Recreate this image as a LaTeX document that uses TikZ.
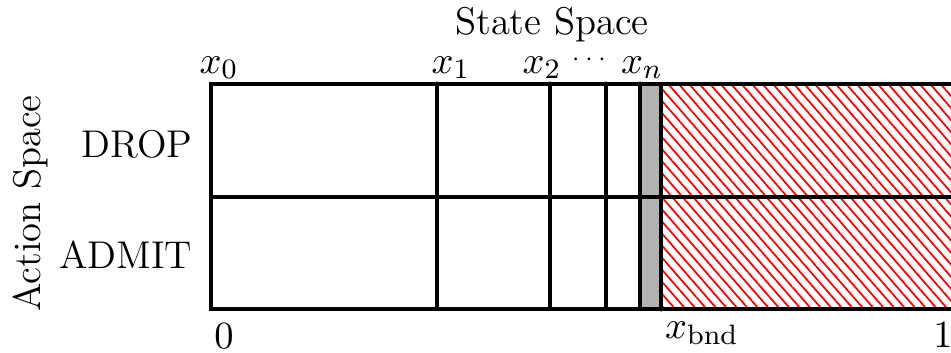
\documentclass[tikz,border=0pt]{standalone}
\usetikzlibrary{patterns.meta}
\begin{document}
\begin{tikzpicture}[x=1cm,y=1cm,font=\fontsize{11}{13.6}\selectfont,
cellline/.style={line width=1pt,draw=black},
edgeline/.style={line width=1.3pt,draw=black},
lbl/.style={anchor=base,inner sep=0pt},
hatch/.style={pattern={Lines[angle=-49,distance=2.25pt,line width=.5pt]},pattern color=red}]
\useasboundingbox(0,0)rectangle(9.51,3.52);
\clip(0,0)rectangle(9.51,3.52);
% state intervals
\fill[gray!60](6.40,.43)rectangle(6.61,2.68);
\fill[hatch](6.61,.43)rectangle(9.8,2.68);
\draw[cellline](9.8,2.68)--(2.11,2.68)--(2.11,.43)--(9.8,.43);
\draw[cellline](2.11,1.55)--(9.8,1.55);
\foreach \xx in {4.37,5.50,6.06}{\draw[cellline](\xx,.43)--(\xx,2.68);\fill(\xx,2.68)circle(.025);}
\draw[edgeline](6.40,.43)--(6.40,2.68);\fill(6.40,2.68)circle(.025);
\draw[edgeline](6.61,.43)--(6.61,2.68);\fill(6.61,.43)circle(.025);
% labels
\node[lbl](title)at(5.52,3.17){State Space};
\node[lbl](xzero)at(2.19,2.79){$x_0$};
\node[lbl](xone)at(4.51,2.79){$x_1$};
\node[lbl](xtwo)at(5.42,2.79){$x_2$};
\node[lbl,font=\scriptsize](xdots)at(5.89,2.86){$\cdots$};
\node[lbl](xlast)at(6.42,2.79){$x_n$};
\node[lbl,anchor=base east](drop)at(1.93,1.95){DROP};
\node[lbl,anchor=base east](admit)at(1.93,.84){ADMIT};
\node[lbl,rotate=90](action)at(.40,1.485){Action Space};
\node[lbl](zero)at(2.24,.04){$0$};
\node[lbl](xbnd)at(7.02,.14){$x_{\mathrm{bnd}}$};
\node[lbl](one)at(9.43,.05){$1$};
\end{tikzpicture}
\end{document}
